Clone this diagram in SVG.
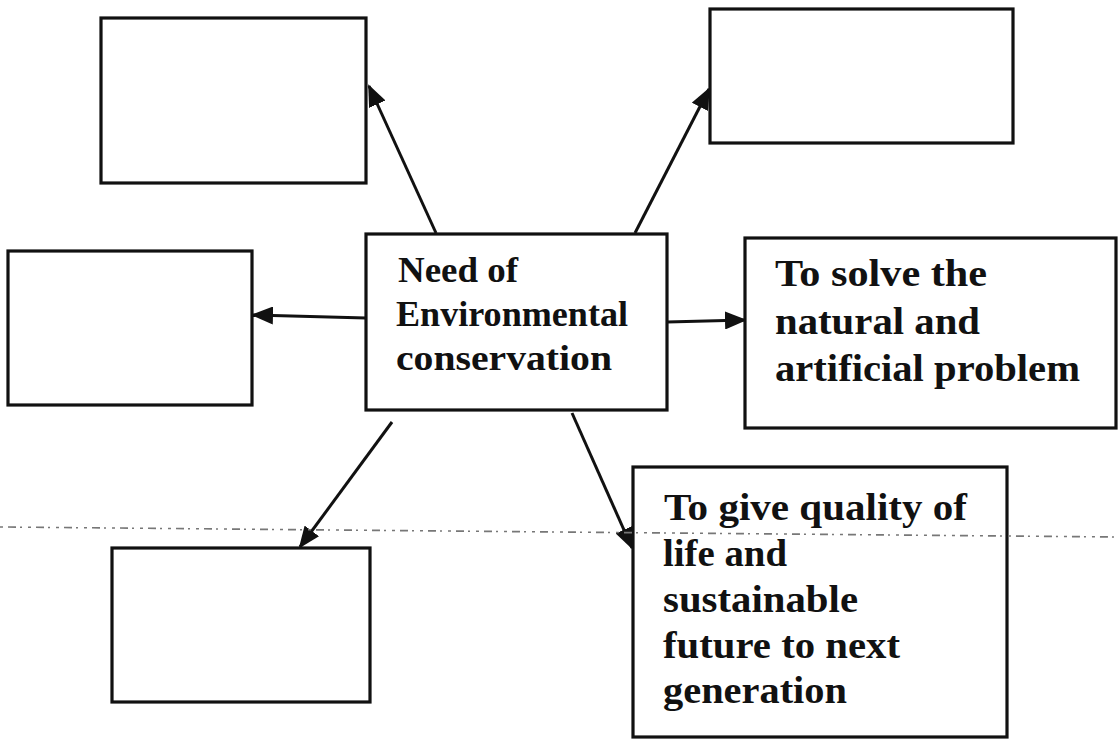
<svg xmlns="http://www.w3.org/2000/svg" width="1118" height="740" viewBox="0 0 1118 740">
<style>
.box{fill:#fff;stroke:#111;stroke-width:3.2}
.t{font-family:"Liberation Serif","Times New Roman",serif;font-weight:bold;fill:#111}
.c{font-size:35px}
.r{font-size:37px}
.edge{stroke:#111;stroke-width:3;fill:none;marker-end:url(#ah)}
</style>
<defs>
<marker id="ah" markerUnits="userSpaceOnUse" markerWidth="22" markerHeight="18" viewBox="0 0 22 18" refX="20" refY="9" orient="auto">
<path d="M0,0 L22,9 L0,18 z" fill="#111"/>
</marker>
</defs>
<rect width="1118" height="740" fill="#fff"/>
<g id="connectors">
<line class="edge" x1="436" y1="233" x2="369" y2="86"/>
<line class="edge" x1="635" y1="233" x2="709" y2="89"/>
<line class="edge" x1="366" y1="318" x2="253" y2="315"/>
<line class="edge" x1="667" y1="322" x2="745" y2="320"/>
<line class="edge" x1="392" y1="422" x2="300" y2="547"/>
<line class="edge" x1="572" y1="413" x2="632" y2="548"/>
</g>
<g id="box-top-left"><rect class="box" x="101" y="18" width="265" height="165"/></g>
<g id="box-top-right"><rect class="box" x="710" y="9" width="303" height="134"/></g>
<g id="box-left"><rect class="box" x="8" y="251" width="244" height="154"/></g>
<g id="box-bottom-left"><rect class="box" x="112" y="548" width="258" height="154"/></g>
<g id="center">
<rect class="box" x="366" y="234" width="301" height="176"/>
<text class="t c" x="398" y="282" textLength="120" lengthAdjust="spacingAndGlyphs">Need of</text>
<text class="t c" x="396" y="326" textLength="232" lengthAdjust="spacingAndGlyphs">Environmental</text>
<text class="t c" x="396" y="370" textLength="216" lengthAdjust="spacingAndGlyphs">conservation</text>
</g>
<g id="box-right">
<rect class="box" x="745" y="238" width="371" height="190"/>
<text class="t r" x="775" y="286" textLength="212" lengthAdjust="spacingAndGlyphs">To solve the</text>
<text class="t r" x="775" y="334" textLength="205" lengthAdjust="spacingAndGlyphs">natural and</text>
<text class="t r" x="775" y="381" textLength="305" lengthAdjust="spacingAndGlyphs">artificial problem</text>
</g>
<g id="box-bottom-right">
<rect class="box" x="633" y="467" width="374" height="270"/>
<text class="t r" x="664" y="520" textLength="303" lengthAdjust="spacingAndGlyphs">To give quality of</text>
<text class="t r" x="663" y="566" textLength="124" lengthAdjust="spacingAndGlyphs">life and</text>
<text class="t r" x="663" y="612" textLength="195" lengthAdjust="spacingAndGlyphs">sustainable</text>
<text class="t r" x="663" y="658" textLength="237" lengthAdjust="spacingAndGlyphs">future to next</text>
<text class="t r" x="663" y="703" textLength="184" lengthAdjust="spacingAndGlyphs">generation</text>
</g>
<line x1="0" y1="527" x2="1118" y2="537" stroke="#777" stroke-width="1.6" stroke-dasharray="3 5 8 4 2 6"/>
</svg>
